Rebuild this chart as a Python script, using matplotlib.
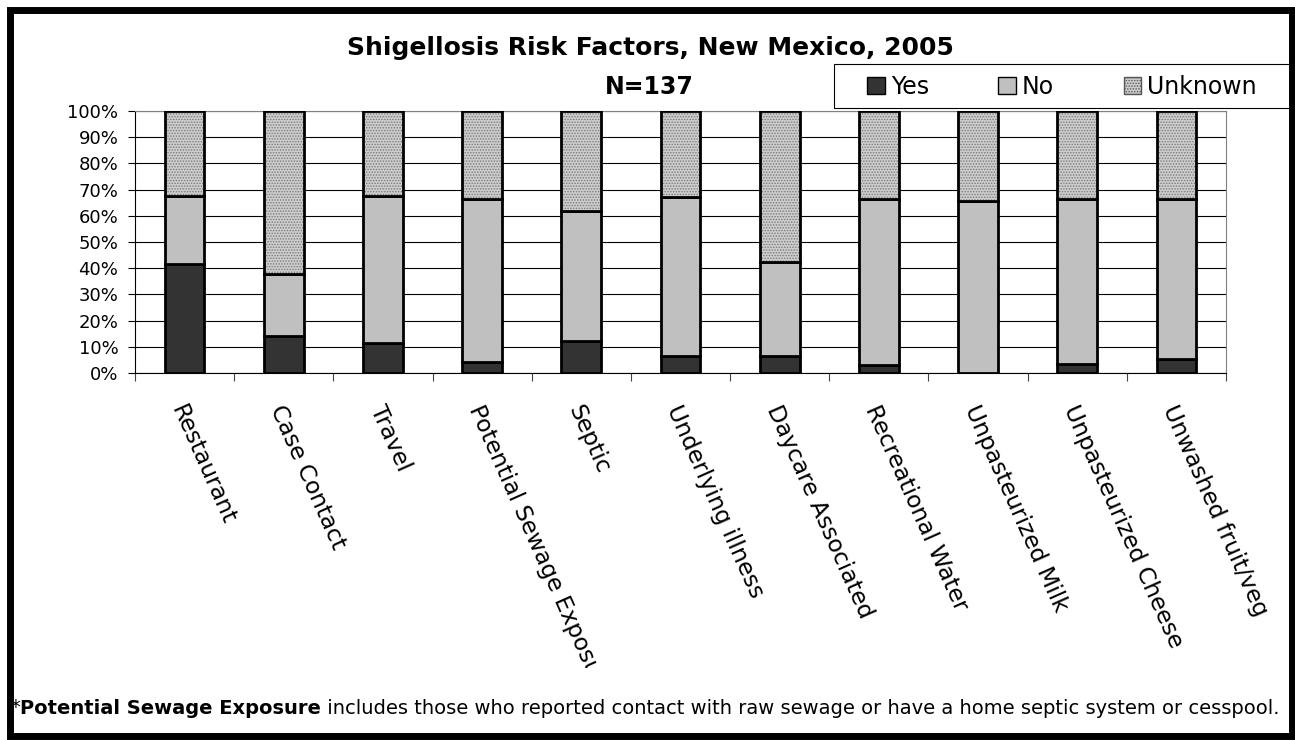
import matplotlib
matplotlib.use("Agg")
import matplotlib.pyplot as plt
from matplotlib.patches import Rectangle, Patch
from matplotlib.ticker import PercentFormatter, MultipleLocator
from matplotlib.transforms import ScaledTranslation, Bbox, TransformedBbox, blended_transform_factory

plt.rcParams["font.family"] = ["DejaVu Sans"]
plt.rcParams["hatch.linewidth"] = 0.7

categories = ["Restaurant", "Case Contact", "Travel", "Potential Sewage Exposure",
              "Septic", "Underlying illness", "Daycare Associated",
              "Recreational Water", "Unpasteurized Milk", "Unpasteurized Cheese",
              "Unwashed fruit/veg"]
yes = [41.6, 14.3, 11.5, 4.3, 12.4, 6.6, 6.6, 2.9, 0.0, 3.6, 5.2]
no = [26.1, 23.6, 56.2, 62.0, 49.5, 60.4, 35.6, 63.5, 65.6, 62.8, 61.2]
unknown = [32.3, 62.1, 32.3, 33.7, 38.1, 33.0, 57.8, 33.6, 34.4, 33.6, 33.6]

W, H = 1295, 740
fig = plt.figure(figsize=(W / 100, H / 100), dpi=100)
ax = fig.add_axes([135 / W, 1 - 373 / H, (1226 - 135) / W, (373 - 111) / H])

x = list(range(len(categories)))
no_bottom = yes
unk_bottom = [a + b for a, b in zip(yes, no)]

ax.bar(x, yes, width=0.4, color="#333333", edgecolor="black", linewidth=2, zorder=3)
ax.bar(x, no, width=0.4, bottom=no_bottom, color="#c0c0c0", edgecolor="black", linewidth=2, zorder=3)
# hatched fill first, then black outline on top
ax.bar(x, unknown, width=0.4, bottom=unk_bottom, color="#cdcdcd", edgecolor="#7a7a7a",
       hatch="......", linewidth=0, zorder=3)
ax.bar(x, unknown, width=0.4, bottom=unk_bottom, facecolor="none", edgecolor="black",
       linewidth=2, zorder=4)

ax.set_xlim(-0.5, len(categories) - 0.5)
ax.set_ylim(0, 100)
ax.yaxis.set_major_locator(MultipleLocator(10))
ax.yaxis.set_major_formatter(PercentFormatter(decimals=0))
ax.grid(axis="y", color="black", linewidth=0.8, zorder=0)
ax.tick_params(axis="y", labelsize=13, length=5, pad=7, color="black")
ax.set_xticks([i + 0.5 for i in range(-1, len(categories))])
ax.set_xticklabels([])
ax.tick_params(axis="x", length=6, color="#444444")
for side in ["top", "right"]:
    ax.spines[side].set_color("#808080")
for side in ["left", "bottom"]:
    ax.spines[side].set_color("black")

# rotated category labels, clipped at the bottom like the original
clip = TransformedBbox(Bbox([[0, 72 / H], [1, 1]]), fig.transFigure)
trans = blended_transform_factory(ax.transData, ax.transAxes) + \
    ScaledTranslation(-7.5 / 100, -33 / 100, fig.dpi_scale_trans)
for i, lab in enumerate(categories):
    t = ax.text(i, 0, lab, transform=trans, rotation=-66, rotation_mode="anchor",
                ha="left", va="center", fontsize=16.8)
    t.set_clip_on(True)
    t.set_clip_box(clip)

fig.text(650 / W, 1 - 47.5 / H, "Shigellosis Risk Factors, New Mexico, 2005",
         ha="center", va="center", fontsize=18, fontweight="bold")
fig.text(649 / W, 1 - 86.7 / H, "N=137", ha="center", va="center",
         fontsize=17, fontweight="bold")

# legend box
fig.add_artist(Rectangle((834 / W, 1 - 108 / H), (1292 - 834) / W, 44 / H,
                         transform=fig.transFigure, facecolor="white",
                         edgecolor="black", linewidth=0.8, zorder=5))
handles = [Patch(facecolor="#333333", edgecolor="black"),
           Patch(facecolor="#c0c0c0", edgecolor="black"),
           Patch(facecolor="#cdcdcd", edgecolor="#555555", hatch="......")]
leg = fig.legend(handles, ["Yes", "No", "Unknown"], loc="center left",
                 bbox_to_anchor=(867 / W, 1 - 86.5 / H), ncol=3, frameon=False,
                 fontsize=17, handlelength=0.75, handleheight=0.75,
                 handletextpad=0.25, columnspacing=2.95, borderpad=0, borderaxespad=0)
leg.set_zorder(6)

# footnote with bold part
t1 = fig.text(10 / W, 1 - 708 / H, "*", ha="left", va="center", fontsize=14)
t2 = ax.annotate("Potential Sewage Exposure", xy=(1, 0), xycoords=t1, ha="left",
                 va="bottom", fontsize=14, fontweight="bold", annotation_clip=False)
ax.annotate(" includes those who reported contact with raw sewage or have a home septic system or cesspool.",
            xy=(1, 0), xycoords=t2, ha="left", va="bottom", fontsize=14,
            annotation_clip=False)

# outer frame
fig.add_artist(Rectangle((9.5 / W, 1 - 735.5 / H), (1291.5 - 9.5) / W, (735.5 - 9.5) / H,
                         transform=fig.transFigure, facecolor="none",
                         edgecolor="black", linewidth=5, zorder=10))

fig.savefig("out.png", dpi=100)
